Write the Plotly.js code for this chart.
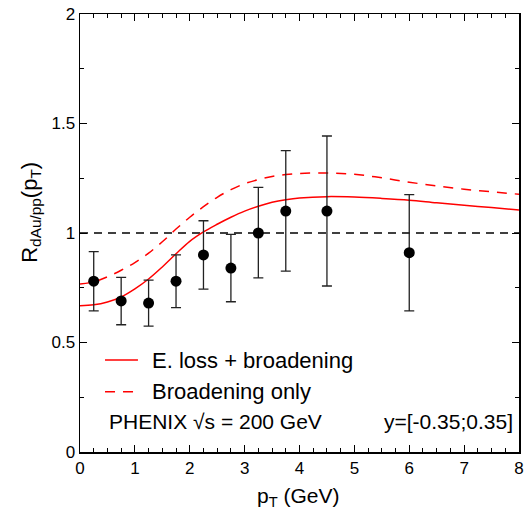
<!DOCTYPE html>
<html>
<head>
<meta charset="utf-8">
<script src="https://cdn.plot.ly/plotly-3.0.1.min.js"></script>
<style>html,body{margin:0;padding:0;background:#fff;}#chart{width:525px;height:513px;}</style>
</head>
<body>
<div id="chart"></div>
<script>
// PHENIX data points
const dataPt = [0.25, 0.75, 1.25, 1.75, 2.25, 2.75, 3.25, 3.75, 4.5, 6.0];
const dataR = [0.78, 0.69, 0.68, 0.78, 0.90, 0.84, 1.00, 1.10, 1.10, 0.91];
const dataHigh = [0.915, 0.797, 0.785, 0.900, 1.056, 0.994, 1.208, 1.376, 1.443, 1.175];
const dataLow = [0.644, 0.581, 0.575, 0.659, 0.744, 0.686, 0.795, 0.826, 0.758, 0.644];

// Theory curves
const curvePt = [0, 0.25, 0.5, 0.75, 1.0, 1.25, 1.5, 1.75, 2.0, 2.25, 2.5, 2.75, 3.0, 3.25, 3.5, 3.75, 4.0, 4.5, 5.0, 5.5, 6.0, 6.5, 7.0, 7.5, 8.0];
const elossBroad = [0.668, 0.672, 0.685, 0.708, 0.745, 0.790, 0.845, 0.905, 0.962, 1.005, 1.040, 1.072, 1.100, 1.122, 1.140, 1.152, 1.160, 1.166, 1.164, 1.158, 1.150, 1.138, 1.127, 1.116, 1.105];
const broadOnly = [0.767, 0.777, 0.800, 0.830, 0.865, 0.908, 0.960, 1.018, 1.072, 1.120, 1.163, 1.198, 1.225, 1.244, 1.258, 1.267, 1.272, 1.274, 1.268, 1.252, 1.232, 1.215, 1.200, 1.188, 1.177];

// Reference line
const refX = [0, 8];
const refY = [1, 1];

const xTickVals = [0, 1, 2, 3, 4, 5, 6, 7, 8];
const xTickText = ['0', '1', '2', '3', '4', '5', '6', '7', '8'];
const yTickVals = [0, 0.5, 1, 1.5, 2];
const yTickText = ['0', '0.5', '1', '1.5', '2'];

const legendNames = ['E. loss + broadening', 'Broadening only'];

const errPlus = dataHigh.map((h, i) => h - dataR[i]);
const errMinus = dataLow.map((l, i) => dataR[i] - l);

const font = 'Liberation Sans, Arial, Helvetica, sans-serif';
const solidLine = {color: '#ff0000', width: 1.5};
const dashLine = {color: '#ff0000', width: 1.5, dash: '10px,8px'};

const traces = [
  {x: refX, y: refY, mode: 'lines', line: {color: '#000', width: 1.5, dash: '8px,6px'}, showlegend: false, hoverinfo: 'skip'},
  {x: curvePt, y: elossBroad, mode: 'lines', name: legendNames[0], showlegend: false,
   line: Object.assign({shape: 'spline'}, solidLine)},
  {x: curvePt, y: broadOnly, mode: 'lines', name: legendNames[1], showlegend: false,
   line: Object.assign({shape: 'spline'}, dashLine)},
  {x: dataPt, y: dataR, mode: 'markers', showlegend: false,
   marker: {color: '#000', size: 11},
   error_y: {type: 'data', symmetric: false, array: errPlus, arrayminus: errMinus, color: '#222', thickness: 1.3, width: 5}}
];

const axisCommon = {
  showgrid: false, zeroline: false, showline: true, linecolor: '#000', linewidth: 1.5,
  mirror: 'ticks', ticks: 'inside', ticklen: 7, tickwidth: 1, tickcolor: '#000',
  tickfont: {family: font, size: 17, color: '#000'},
  minor: {ticks: 'inside', ticklen: 4, tickwidth: 1, tickcolor: '#000', dtick: 0.25, showgrid: false}
};

// legend key (drawn in paper space)
const keyRows = [0.2098, 0.1375];
const keyStyles = [solidLine, dashLine];
const legendShapes = keyRows.map((yy, i) => ({
  type: 'line', xref: 'paper', yref: 'paper', x0: 0.057, x1: 0.132, y0: yy, y1: yy, line: keyStyles[i]
}));
const legendTexts = keyRows.map((yy, i) => ({
  xref: 'paper', yref: 'paper', x: 0.16, y: yy, xanchor: 'left', yanchor: 'middle', showarrow: false,
  text: legendNames[i], font: {family: font, size: 22, color: '#000'}
}));

const layout = {
  width: 525, height: 513,
  margin: {l: 80, r: 6, t: 14, b: 61},
  paper_bgcolor: '#fff', plot_bgcolor: '#fff',
  font: {family: font, color: '#000'},
  showlegend: false,
  xaxis: Object.assign({}, axisCommon, {
    range: [0, 8], tickmode: 'array', tickvals: xTickVals, ticktext: xTickText
  }),
  yaxis: Object.assign({}, axisCommon, {
    range: [0, 2], tickmode: 'array', tickvals: yTickVals, ticktext: yTickText
  }),
  shapes: legendShapes,
  annotations: legendTexts.concat([
    {xref: 'paper', yref: 'paper', x: 0.497, y: -0.103, xanchor: 'center', yanchor: 'middle', showarrow: false,
     text: 'p<sub>T</sub> (GeV)', font: {family: font, size: 21, color: '#000'}},
    {xref: 'paper', yref: 'paper', x: -0.112, y: 0.548, xanchor: 'center', yanchor: 'middle', showarrow: false,
     textangle: -90, text: 'R<sub>dAu/pp</sub>(p<sub>T</sub>)', font: {family: font, size: 22, color: '#000'}},
    {xref: 'paper', yref: 'paper', x: 0.062, y: 0.069, xanchor: 'left', yanchor: 'middle', showarrow: false,
     text: 'PHENIX √s = 200 GeV', font: {family: font, size: 21, color: '#000'}},
    {xref: 'paper', yref: 'paper', x: 0.991, y: 0.069, xanchor: 'right', yanchor: 'middle', showarrow: false,
     text: 'y=[-0.35;0.35]', font: {family: font, size: 21, color: '#000'}}
  ])
};

Plotly.newPlot('chart', traces, layout, {displayModeBar: false, staticPlot: true});
</script>
</body>
</html>
